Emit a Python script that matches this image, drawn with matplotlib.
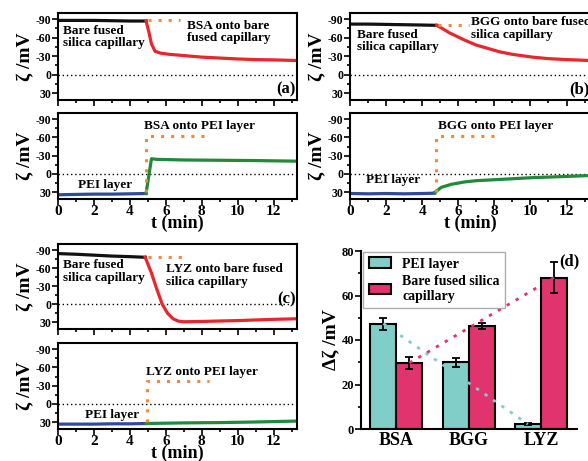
import numpy as np
import matplotlib
matplotlib.use('Agg')
import matplotlib.pyplot as plt
from matplotlib.ticker import MultipleLocator

plt.rcParams['font.family'] = ['Liberation Serif', 'DejaVu Serif']
plt.rcParams['font.weight'] = 'bold'
plt.rcParams['axes.labelweight'] = 'bold'
plt.rcParams['axes.linewidth'] = 1.5

# ---- time traces (t in min, zeta in mV) ----
# (a) BSA
a_bare_t = [0.1, 1, 2, 3, 4, 4.9]
a_bare_v = [-88, -88, -88, -87.5, -87, -87]
a_bsa_t = [4.9, 5.05, 5.2, 5.4, 5.7, 6.2, 7, 8, 9, 10, 11, 12, 13.3]
a_bsa_v = [-87, -70, -50, -38, -35, -33, -31, -28.5, -27, -25.5, -24.5, -24, -23]
a_pei_t = [0.1, 1, 2, 3, 4, 4.9]
a_pei_v = [34, 33.5, 33, 33, 32.5, 32]
a_bsapei_t = [4.9, 5.2, 5.5, 7, 9, 11, 13.3]
a_bsapei_v = [32, -25, -24, -23, -22.5, -22, -21]
a_guide1_t = [5.0, 6.8]
a_guide1_v = [-88, -88]
a_guide2_t = [4.9, 4.9, 8.1]
a_guide2_v = [30, -62, -62]

# (b) BGG
b_bare_t = [0.1, 1, 2, 3, 4, 4.8]
b_bare_v = [-82, -82, -81.5, -81, -80.5, -80]
b_bgg_t = [4.8, 5.05, 5.5, 6, 6.35, 7, 8.3, 9, 10.1, 11, 12, 13.3]
b_bgg_v = [-80, -76, -68, -61, -56, -48, -37, -33, -28.5, -26, -24.5, -23]
b_pei_t = [0.1, 1, 2, 3, 4, 4.7]
b_pei_v = [32, 32.5, 32, 32.5, 32, 31.5]
b_bggpei_t = [4.7, 4.8, 5.05, 5.6, 6.35, 7, 8.25, 10.1, 12, 13.3]
b_bggpei_v = [30, 28, 22, 17, 13, 11, 9, 6, 4, 2.5]
b_guide1_t = [4.9, 6.6]
b_guide1_v = [-80, -80]
b_guide2_t = [4.75, 4.75, 8.1]
b_guide2_v = [30, -63, -63]

# (c) LYZ
c_bare_t = [0.1, 1, 2, 3, 4, 4.85]
c_bare_v = [-84, -83, -81.5, -80, -79, -78]
c_lyz_t = [4.85, 5.2, 5.5, 5.8, 6.1, 6.4, 6.7, 7.0, 8, 10, 12, 13.3]
c_lyz_v = [-78, -52, -25, 0, 15, 24, 28, 29, 28.5, 27, 25, 24]
c_pei_t = [0.1, 1, 2, 3, 4, 4.9]
c_pei_v = [33, 33, 33, 32.5, 32.5, 32]
c_lyzpei_t = [4.9, 7, 9, 11, 13.3]
c_lyzpei_v = [32, 31, 30.5, 29.5, 28]
c_guide1_t = [5.0, 6.9]
c_guide1_v = [-78, -78]
c_guide2_t = [4.95, 4.95, 8.4]
c_guide2_v = [30, -37, -37]

# (d) summary
proteins = ['BSA', 'BGG', 'LYZ']
d_pei = [47.4, 29.9, 2.2]
d_pei_err = [2.7, 2.0, 0.3]
d_bare = [29.7, 46.2, 68.0]
d_bare_err = [2.7, 1.3, 7.0]

black = '#111111'
red = '#E8262B'
blue = '#2F4A9C'
green = '#1F8A3B'
orange = '#F4873A'
cyan = '#80CEC7'
pink = '#E1336E'

fig = plt.figure(figsize=(5.88, 4.61), dpi=100)
W, H = 588., 461.


def box(l, t, r, b):
    return [l / W, 1 - b / H, (r - l) / W, (b - t) / H]


def trace_axes(rect, xlabels):
    ax = fig.add_axes(rect)
    ax.set_xlim(0, 13.3)
    ax.set_ylim(41, -100)
    ax.set_yticks([-90, -60, -30, 0, 30])
    ax.set_yticklabels(['-90', '-60', '-30', '0', '30'])
    ax.yaxis.set_minor_locator(MultipleLocator(15))
    ax.xaxis.set_major_locator(MultipleLocator(2))
    ax.xaxis.set_minor_locator(MultipleLocator(1))
    ax.tick_params(which='both', direction='out', width=1.2)
    ax.tick_params(which='major', length=4)
    ax.tick_params(which='minor', length=2)
    ax.tick_params(axis='y', labelsize=8.5, pad=1)
    ax.tick_params(axis='x', labelsize=11, pad=0)
    ax.axhline(0, color='black', ls=(0, (1, 2)), lw=1)
    ax.set_ylabel('ζ /mV', fontsize=14, labelpad=1)
    if xlabels:
        ax.set_xlabel('t (min)', fontsize=13, labelpad=-2)
    else:
        ax.tick_params(axis='x', labelbottom=False)
    return ax


def guide(ax, t, v):
    ax.plot(t, v, color=orange, lw=2.2, ls=(0, (1, 2.3)))


def note(ax, x, y, s):
    ax.text(x, y, s, fontsize=9.5, va='top', ha='left', linespacing=1.05)


lw = 2.3

# (a)
ax = trace_axes(box(58, 13, 297, 100), False)
ax.plot(a_bare_t, a_bare_v, color=black, lw=lw)
ax.plot(a_bsa_t, a_bsa_v, color=red, lw=lw)
guide(ax, a_guide1_t, a_guide1_v)
note(ax, 0.3, -81, 'Bare fused\nsilica capillary')
note(ax, 7.2, -89, 'BSA onto bare\nfused capillary')
ax.text(13.2, 23, '(a)', fontsize=12, ha='right', va='center')

ax = trace_axes(box(58, 113, 297, 199), True)
ax.plot(a_pei_t, a_pei_v, color=blue, lw=lw)
ax.plot(a_bsapei_t, a_bsapei_v, color=green, lw=lw)
guide(ax, a_guide2_t, a_guide2_v)
note(ax, 4.8, -88, 'BSA onto PEI layer')
note(ax, 1.1, 8, 'PEI layer')

# (b)
ax = trace_axes(box(350, 13, 590, 100), False)
ax.plot(b_bare_t, b_bare_v, color=black, lw=lw)
ax.plot(b_bgg_t, b_bgg_v, color=red, lw=lw)
guide(ax, b_guide1_t, b_guide1_v)
note(ax, 0.4, -74, 'Bare fused\nsilica capillary')
note(ax, 6.7, -95, 'BGG onto bare fused\nsilica capillary')
ax.text(13.3, 23, '(b)', fontsize=12, ha='right', va='center')

ax = trace_axes(box(350, 113, 590, 199), True)
ax.plot(b_pei_t, b_pei_v, color=blue, lw=lw)
ax.plot(b_bggpei_t, b_bggpei_v, color=green, lw=lw)
guide(ax, b_guide2_t, b_guide2_v)
note(ax, 4.9, -88, 'BGG onto PEI layer')
note(ax, 0.9, 0, 'PEI layer')

# (c)
ax = trace_axes(box(58, 244, 297, 329), False)
ax.plot(c_bare_t, c_bare_v, color=black, lw=lw)
ax.plot(c_lyz_t, c_lyz_v, color=red, lw=lw)
guide(ax, c_guide1_t, c_guide1_v)
note(ax, 0.3, -75, 'Bare fused\nsilica capillary')
note(ax, 6.0, -68, 'LYZ onto bare fused\nsilica capillary')
ax.text(13.25, -8, '(c)', fontsize=12, ha='right', va='center')

ax = trace_axes(box(58, 343, 297, 429), True)
ax.plot(c_pei_t, c_pei_v, color=blue, lw=lw)
ax.plot(c_lyzpei_t, c_lyzpei_v, color=green, lw=lw)
guide(ax, c_guide2_t, c_guide2_v)
note(ax, 4.9, -63, 'LYZ onto PEI layer')
note(ax, 1.5, 9, 'PEI layer')

# (d)
ax = fig.add_axes(box(361, 251, 577, 429))
x = np.arange(len(proteins))
w = 0.36
ax.bar(x - w / 2, d_pei, w, yerr=d_pei_err, color=cyan, edgecolor='black', lw=1.5,
       capsize=3, error_kw=dict(lw=1.3, capthick=1.3), label='PEI layer', zorder=2)
ax.bar(x + w / 2, d_bare, w, yerr=d_bare_err, color=pink, edgecolor='black', lw=1.5,
       capsize=3, error_kw=dict(lw=1.3, capthick=1.3), label='Bare fused silica\ncapillary', zorder=2)
ax.plot([x[0] - w / 2, x[-1] - w / 2], [d_pei[0], d_pei[-1]], color=cyan, lw=2, ls=(0, (1.2, 2.5)), zorder=3)
ax.plot([x[0] + w / 2, x[-1] + w / 2], [d_bare[0], d_bare[-1]], color=pink, lw=2, ls=(0, (1.2, 2.5)), zorder=3)
ax.set_xlim(-0.49, 2.5)
ax.set_ylim(0, 80)
ax.set_xticks(x)
ax.set_xticklabels(proteins)
ax.yaxis.set_major_locator(MultipleLocator(20))
ax.yaxis.set_minor_locator(MultipleLocator(10))
ax.tick_params(axis='x', length=0, labelsize=13, pad=2)
ax.tick_params(axis='y', which='both', direction='out', width=1.2, labelsize=9, pad=1)
ax.tick_params(axis='y', which='major', length=4)
ax.tick_params(axis='y', which='minor', length=2)
ax.spines['top'].set_visible(False)
ax.spines['right'].set_visible(False)
ax.set_ylabel('Δζ /mV', fontsize=14, labelpad=1)
leg = ax.legend(loc='upper left', bbox_to_anchor=(0.01, 0.995), borderaxespad=0, fontsize=10,
                frameon=True, fancybox=False, edgecolor='#999999', handlelength=1.6,
                handleheight=0.8, labelspacing=0.3, borderpad=0.4)
leg.get_frame().set_linewidth(1)
ax.text(1.01, 0.985, '(d)', transform=ax.transAxes, fontsize=12, ha='right', va='top')

fig.savefig('out.png', dpi=100)
